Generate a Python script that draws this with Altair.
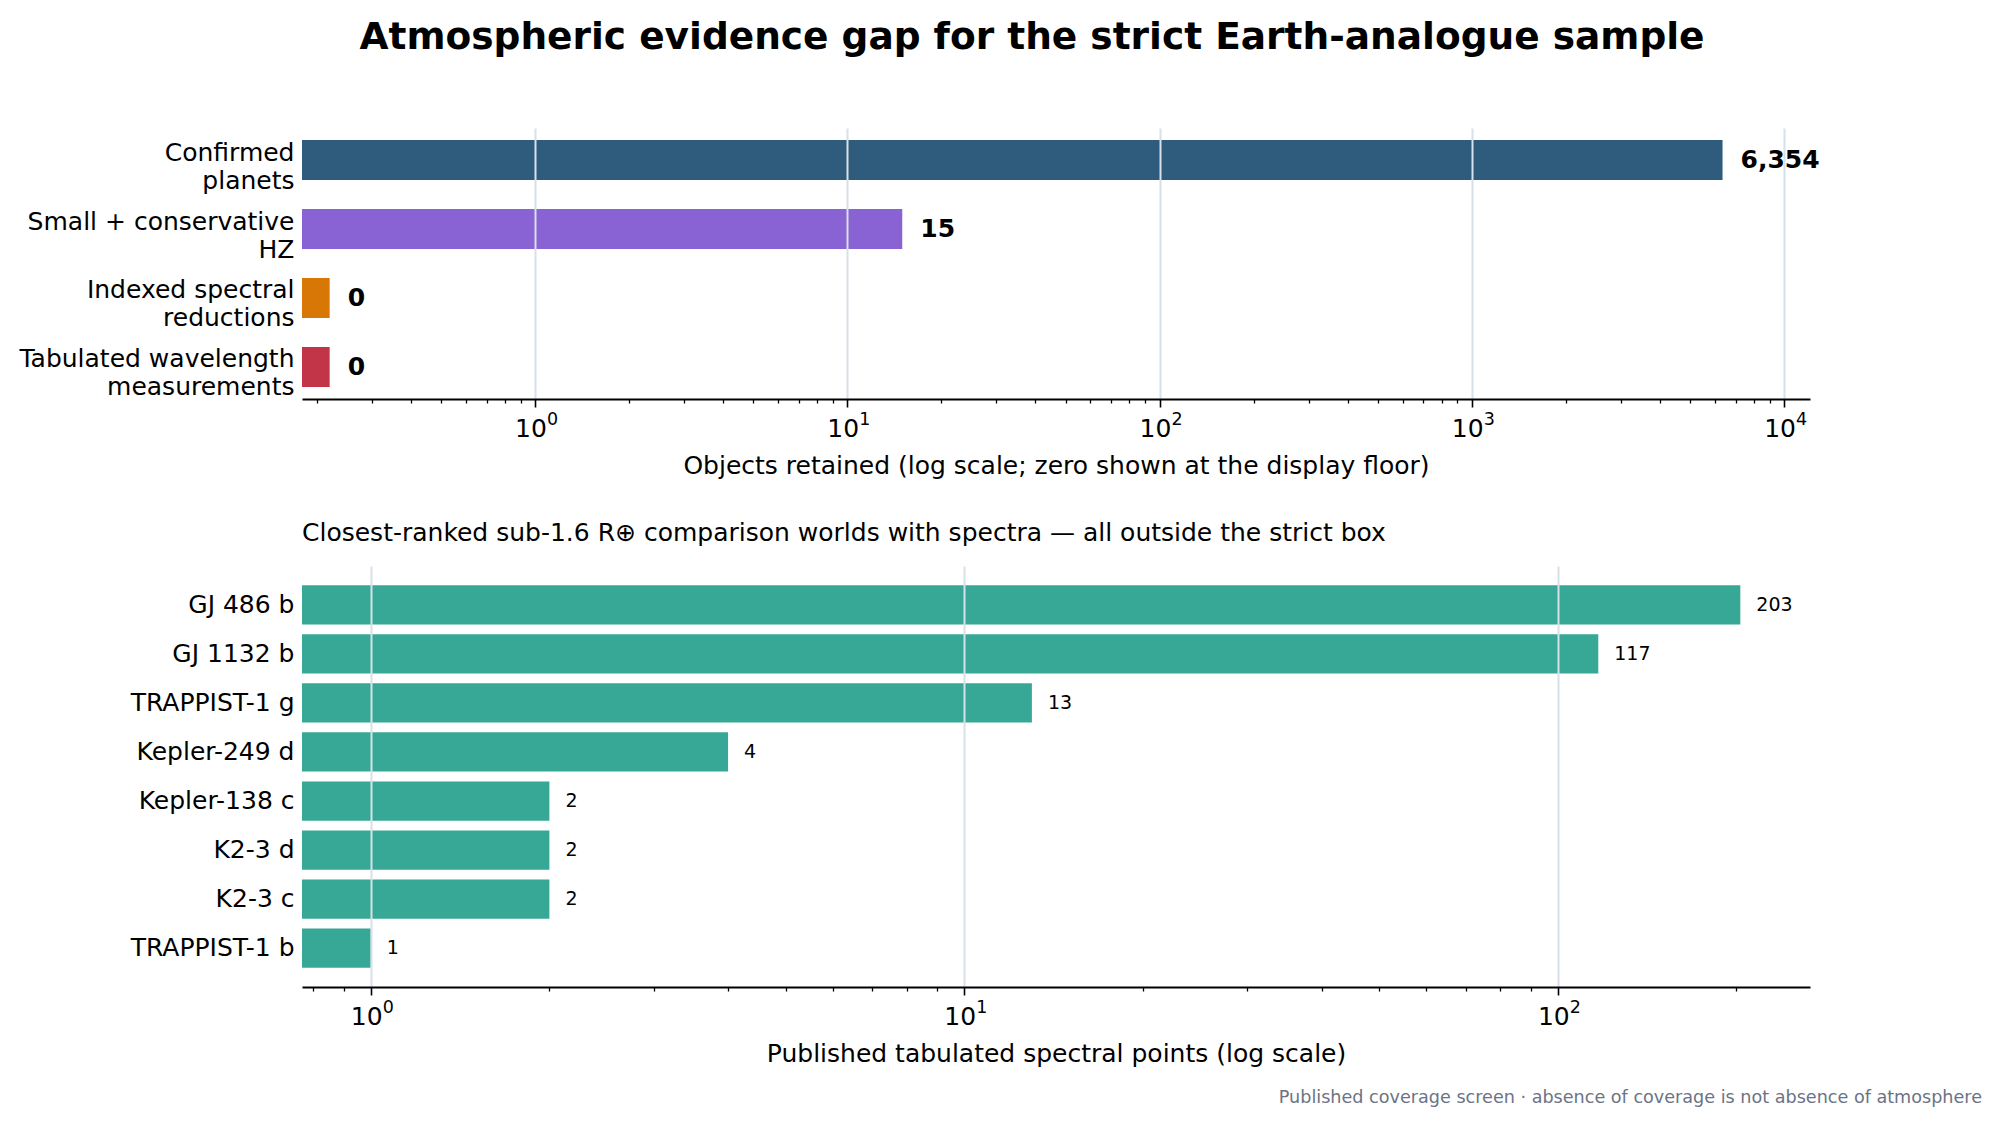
import altair as alt
import pandas as pd

FONT = "DejaVu Sans"

TITLE = "Atmospheric evidence gap for the strict Earth-analogue sample"
SUBTITLE = "Closest-ranked sub-1.6 R\u2295 comparison worlds with spectra \u2014 all outside the strict box"
FOOTNOTE = "Published coverage screen \u00b7 absence of coverage is not absence of atmosphere"

# --- top panel data ---
funnel_stages = [
    "Confirmed|planets",
    "Small + conservative|HZ",
    "Indexed spectral|reductions",
    "Tabulated wavelength|measurements",
]
funnel_counts = [6354, 15, 0, 0]
funnel_colors = ["#2f5b7d", "#8963d3", "#d97706", "#c23447"]
display_floor = 0.22

# --- bottom panel data ---
worlds = ["GJ 486 b", "GJ 1132 b", "TRAPPIST-1 g", "Kepler-249 d",
          "Kepler-138 c", "K2-3 d", "K2-3 c", "TRAPPIST-1 b"]
spectral_points = [203, 117, 13, 4, 2, 2, 2, 1]
bar_color = "#37a895"

# --- axes ---
top_domain = [0.1794, 12110]
top_major = [1, 10, 100, 1000, 10000]
top_minor = [m * 10.0 ** e for e in range(-1, 4) for m in range(2, 10)]
top_minor = [v for v in top_minor if top_domain[0] <= v <= top_domain[1]]

bot_domain = [0.766, 266]
bot_major = [1, 10, 100]
bot_minor = [m * 10.0 ** e for e in range(-1, 3) for m in range(2, 10)]
bot_minor = [v for v in bot_minor if bot_domain[0] <= v <= bot_domain[1]]

IS_MAJOR = "abs(log(datum.value)/LN10 - round(log(datum.value)/LN10)) < 0.000001"
GRID = "#d8e0ea"
LABEL_PAD = 9


def major_axis(values, title):
    return alt.Axis(
        values=values,
        labelExpr=f"({IS_MAJOR}) ? '10' : ''",
        grid=True, gridColor=GRID, gridWidth=2,
        gridOpacity={"condition": {"test": IS_MAJOR, "value": 1}, "value": 0},
        tickSize={"condition": {"test": IS_MAJOR, "value": 8}, "value": 4},
        tickWidth={"condition": {"test": IS_MAJOR, "value": 1.6}, "value": 1.3},
        tickColor="black",
        domainColor="black", domainWidth=1.8,
        labelFontSize=25, labelFont=FONT, labelColor="black", labelPadding=LABEL_PAD,
        labelOffset=-4.5, labelFlush=False, labelOverlap=False,
        title=title, titleFontSize=25, titleFont=FONT, titleFontWeight="normal",
        titleColor="black", titlePadding=12.5, zindex=1, orient="bottom",
    )


def exponent_axis(values):
    return alt.Axis(
        values=values,
        labelExpr="'' + round(log(datum.value)/LN10)",
        grid=False, domain=False, ticks=True, tickSize=8, tickOpacity=0,
        labelFontSize=17.5, labelFont=FONT, labelColor="black",
        labelPadding=LABEL_PAD - 6, labelOffset=17, labelFlush=False, labelOverlap=False,
        title=None, orient="bottom", zindex=1,
    )


def y_axis(offset):
    return alt.Axis(
        title=None, ticks=False, domain=False, labelFontSize=25, labelFont=FONT,
        labelColor="black", labelPadding=8, labelLimit=400, labelOffset=offset,
        minExtent=294, maxExtent=294,
        labelExpr="split(datum.label, '|')", labelLineHeight=28,
    )


# ---------- top panel ----------
df_top = pd.DataFrame({
    "stage": funnel_stages,
    "count": funnel_counts,
    "color": funnel_colors,
})
df_top["shown"] = [max(c, display_floor) for c in funnel_counts]
df_top["label"] = [f"{c:,}" for c in funnel_counts]

top_x_scale = alt.Scale(type="log", domain=top_domain, nice=False)
top_y = alt.Y("stage:N", sort=funnel_stages,
              scale=alt.Scale(paddingInner=0.42, paddingOuter=0.174), axis=y_axis(-7.5))

top_bars = alt.Chart(df_top).mark_bar().encode(
    x=alt.X("shown:Q", scale=top_x_scale,
            axis=major_axis(top_major + top_minor,
                            "Objects retained (log scale; zero shown at the display floor)")),
    x2=alt.datum(top_domain[0]),
    y=top_y,
    color=alt.Color("color:N", scale=None),
)
top_text = alt.Chart(df_top).mark_text(
    align="left", baseline="middle", dx=18, fontSize=25, fontWeight="bold", font=FONT, color="black"
).encode(
    x=alt.X("shown:Q", scale=top_x_scale, axis=exponent_axis(top_major)),
    y=top_y,
    text="label:N",
)
top = alt.layer(top_bars, top_text).resolve_axis(x="independent").properties(width=1508, height=271)

# ---------- bottom panel ----------
df_bot = pd.DataFrame({"world": worlds, "points": spectral_points})
bot_x_scale = alt.Scale(type="log", domain=bot_domain, nice=False)
bot_y = alt.Y("world:N", sort=worlds,
              scale=alt.Scale(paddingInner=0.2, paddingOuter=0.39), axis=y_axis(0))

bot_bars = alt.Chart(df_bot).mark_bar(color=bar_color).encode(
    x=alt.X("points:Q", scale=bot_x_scale,
            axis=major_axis(bot_major + bot_minor, "Published tabulated spectral points (log scale)")),
    x2=alt.datum(bot_domain[0]),
    y=bot_y,
)
bot_text = alt.Chart(df_bot).mark_text(
    align="left", baseline="middle", dx=16, fontSize=19, font=FONT, color="black"
).encode(
    x=alt.X("points:Q", scale=bot_x_scale, axis=exponent_axis(bot_major)),
    y=bot_y,
    text="points:Q",
)
note = alt.Chart(pd.DataFrame({"note": [FOOTNOTE]})).mark_text(
    align="right", baseline="middle", fontSize=17.6, font=FONT, color="#6b7385"
).encode(
    x=alt.value(1680), y=alt.value(532), text="note:N",
)
bottom = alt.layer(bot_bars, bot_text, note).resolve_axis(x="independent").properties(
    width=1508, height=421,
    title=alt.TitleParams(SUBTITLE, anchor="start", frame="group", fontSize=25, font=FONT,
                          fontWeight="normal", color="black", offset=20),
)

chart = alt.vconcat(top, bottom, spacing=42).properties(
    title=alt.TitleParams(TITLE, anchor="middle", fontSize=37.5, font=FONT, fontWeight="bold",
                          color="black", offset=72, dx=37),
    padding={"top": 10, "left": 0, "right": 0, "bottom": 0},
).configure(background="white").configure_view(strokeWidth=0, stroke="transparent")

chart.save("out.html", embed_options={"renderer": "svg", "actions": False})
